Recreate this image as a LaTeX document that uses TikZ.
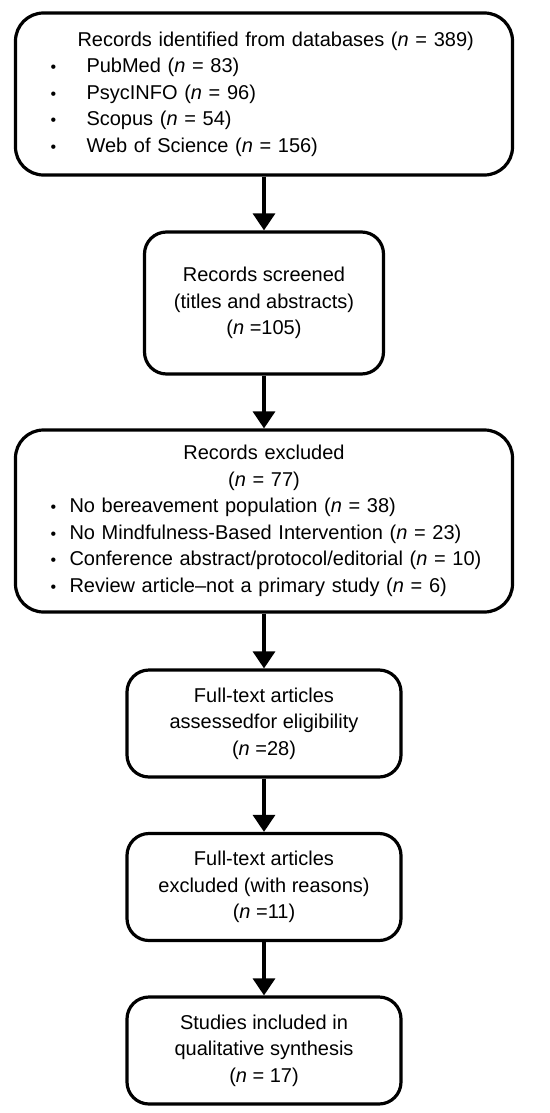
\documentclass[tikz,border=0pt]{standalone}
\usepackage{fontspec}
\setmainfont{Liberation Sans}
\usetikzlibrary{arrows.meta}
\newcommand{\itm}[2][18pt]{\makebox[\linewidth][l]{\makebox[#1][l]{\fontsize{8}{8}\selectfont\textbullet}#2}}
\tikzset{
  base/.style={font=\fontsize{10}{13.25}\selectfont, inner sep=0pt, text=black},
  box/.style={base, rectangle, rounded corners=11pt, draw=black, line width=1.6pt, align=center},
  widebox/.style={box, rounded corners=14pt, minimum width=248.5pt, text width=213.5pt, align=left},
  smallbox/.style={box, minimum width=137pt, minimum height=53.5pt},
  arr/.style={-{Triangle[length=8.5pt,width=11pt]}, line width=1.6pt, draw=black},
}
\begin{document}
\begin{tikzpicture}[x=0.5pt,y=-0.5pt]
  \useasboundingbox (0,0) rectangle (550,1113);
  \node[widebox,minimum height=81pt] (ident) at (264,94) {\hspace*{13.5pt}Records identified from databases (\textit{n} = 389)\\
    \itm{PubMed (\textit{n} = 83)}\\
    \itm{PsycINFO (\textit{n} = 96)}\\
    \itm{Scopus (\textit{n} = 54)}\\
    \itm{Web of Science (\textit{n} = 156)}};
  \node[box,minimum width=119.5pt,minimum height=71pt] (screen) at (264,303) {Records screened\\(titles and abstracts)\\(\textit{n} =105)};
  \node[widebox,minimum height=91pt] (excl) at (264,521) {\makebox[\linewidth]{Records excluded}\\
    \makebox[\linewidth]{(\textit{n} = 77)}\\
    \itm[9.5pt]{No bereavement population (\textit{n} = 38)}\\
    \itm[9.5pt]{No Mindfulness-Based Intervention (\textit{n} = 23)}\\
    \itm[9.5pt]{Conference abstract/protocol/editorial (\textit{n} = 10)}\\
    \itm[9.5pt]{Review article--not a primary study (\textit{n} = 6)}};
  \node[smallbox] (full) at (264,723.5) {Full-text articles\\assessedfor eligibility\\(\textit{n} =28)};
  \node[smallbox] (fullex) at (264,887) {Full-text articles\\excluded (with reasons)\\(\textit{n} =11)};
  \node[smallbox] (incl) at (264,1050.5) {Studies included in\\qualitative synthesis\\(\textit{n} = 17)};
  \draw[arr] (ident) -- (screen);
  \draw[arr] (screen) -- (excl);
  \draw[arr] (excl) -- (full);
  \draw[arr] (full) -- (fullex);
  \draw[arr] (fullex) -- (incl);
\end{tikzpicture}
\end{document}
